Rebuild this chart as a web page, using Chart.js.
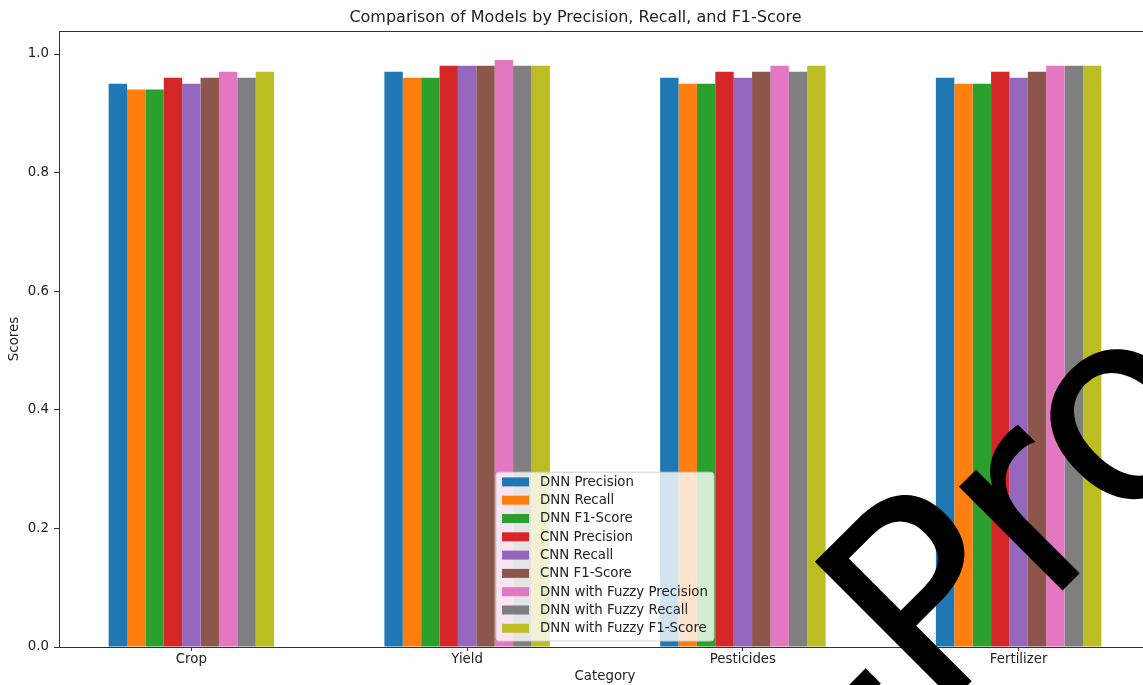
<!DOCTYPE html>
<html>
<head>
<meta charset="utf-8">
<script src="https://cdn.jsdelivr.net/npm/chart.js@4/dist/chart.umd.min.js"></script>
<style>
  html, body { margin: 0; padding: 0; background: #fff; overflow: hidden; }
  #wrap { width: 1143px; height: 685px; overflow: hidden; position: relative; }
  canvas { display: block; }
</style>
</head>
<body>
<div id="wrap"><canvas id="chart" width="1210" height="685"></canvas></div>
<script>
// Categories and per-model scores
const categories = ['Crop', 'Yield', 'Pesticides', 'Fertilizer'];

const dnnPrecision   = [0.95, 0.97, 0.96, 0.96];
const dnnRecall      = [0.94, 0.96, 0.95, 0.95];
const dnnF1          = [0.94, 0.96, 0.95, 0.95];
const cnnPrecision   = [0.96, 0.98, 0.97, 0.97];
const cnnRecall      = [0.95, 0.98, 0.96, 0.96];
const cnnF1          = [0.96, 0.98, 0.97, 0.97];
const fuzzyPrecision = [0.97, 0.99, 0.98, 0.98];
const fuzzyRecall    = [0.96, 0.98, 0.97, 0.98];
const fuzzyF1        = [0.97, 0.98, 0.98, 0.98];

const seriesLabels = [
  'DNN Precision', 'DNN Recall', 'DNN F1-Score',
  'CNN Precision', 'CNN Recall', 'CNN F1-Score',
  'DNN with Fuzzy Precision', 'DNN with Fuzzy Recall', 'DNN with Fuzzy F1-Score'
];
const seriesValues = [
  dnnPrecision, dnnRecall, dnnF1,
  cnnPrecision, cnnRecall, cnnF1,
  fuzzyPrecision, fuzzyRecall, fuzzyF1
];
const palette = ['#1f77b4', '#ff7f0e', '#2ca02c', '#d62728', '#9467bd',
                 '#8c564b', '#e377c2', '#7f7f7f', '#bcbd22'];

const yTicks = [0, 0.2, 0.4, 0.6, 0.8, 1.0];
const watermarkText = '-Pro';

const FONT = '"DejaVu Sans", "Liberation Sans", sans-serif';
const INK = '#222';
const FS = 13.33;

const datasets = seriesLabels.map((label, s) => ({
  label,
  data: categories.map((_, i) => ({ x: i, y: seriesValues[s][i] })),
  backgroundColor: palette[s],
  borderWidth: 0
}));

// Axes frame, in-plot legend and watermark
const decorations = {
  id: 'decorations',
  afterDatasetsDraw(chart) {
    const { ctx, chartArea: a } = chart;
    ctx.save();
    // frame
    ctx.strokeStyle = '#333';
    ctx.lineWidth = 1;
    ctx.strokeRect(Math.round(a.left) + 0.5, Math.round(a.top) + 0.5,
                   Math.round(a.right - a.left), Math.round(a.bottom - a.top));

    // legend, lower center
    ctx.font = FS + 'px ' + FONT;
    const items = chart.data.datasets;
    const rowH = 18.3, patchW = 27, patchH = 9;
    const textW = Math.max(...items.map(d => ctx.measureText(d.label).width));
    const w = 6 + patchW + 11 + textW + 6;
    const h = 9.7 + (items.length - 1) * rowH + 12.7;
    const x0 = (a.left + a.right) / 2 - w / 2;
    const y0 = a.bottom - 6 - h;
    ctx.beginPath();
    ctx.roundRect(x0, y0, w, h, 3);
    ctx.fillStyle = 'rgba(255,255,255,0.8)';
    ctx.fill();
    ctx.strokeStyle = 'rgba(204,204,204,0.9)';
    ctx.stroke();
    ctx.textBaseline = 'middle';
    ctx.textAlign = 'left';
    items.forEach((d, i) => {
      const cy = y0 + 9.7 + i * rowH;
      ctx.fillStyle = d.backgroundColor;
      ctx.fillRect(x0 + 6, cy - patchH / 2, patchW, patchH);
      ctx.fillStyle = INK;
      ctx.fillText(d.label, x0 + 6 + patchW + 11, cy + 0.5);
    });
    ctx.restore();
  },
  afterDraw(chart) {
    const { ctx } = chart;
    ctx.save();
    ctx.translate(866, 787);
    ctx.rotate(-Math.PI / 4);
    ctx.font = '268px ' + FONT;
    ctx.fillStyle = '#000';
    ctx.textBaseline = 'alphabetic';
    ctx.textAlign = 'left';
    ctx.fillText(watermarkText, 0, 0);
    ctx.restore();
  }
};

new Chart(document.getElementById('chart'), {
  type: 'bar',
  data: { datasets },
  options: {
    responsive: false,
    animation: false,
    devicePixelRatio: 1,
    categoryPercentage: 0.6,
    barPercentage: 1.0,
    layout: { padding: { left: 0, right: 59, top: 0, bottom: 0 } },
    plugins: {
      legend: { display: false },
      tooltip: { enabled: false },
      title: {
        display: true,
        text: 'Comparison of Models by Precision, Recall, and F1-Score',
        color: INK,
        font: { family: FONT, size: 16, weight: 'normal', lineHeight: 1.2 },
        padding: { top: 8, bottom: 3.8 }
      }
    },
    scales: {
      x: {
        type: 'linear',
        offset: false,
        min: -0.48,
        max: 3.48,
        afterFit(scale) { scale.height = 38; },
        afterBuildTicks(scale) {
          scale.ticks = categories.map((_, i) => ({ value: i }));
        },
        ticks: {
          color: INK,
          font: { family: FONT, size: FS },
          padding: 1,
          maxRotation: 0,
          autoSkip: false,
          callback: v => categories[v]
        },
        grid: { display: true, offset: false, drawOnChartArea: false, drawTicks: true, tickLength: 4, tickColor: '#333' },
        border: { display: true, color: '#333' },
        title: {
          display: true,
          text: 'Category',
          color: INK,
          font: { family: FONT, size: FS },
          padding: { top: 0, bottom: 0 }
        }
      },
      y: {
        min: 0,
        max: 1.0388,
        afterFit(scale) { scale.width = 59; },
        afterBuildTicks(scale) {
          scale.ticks = yTicks.map(v => ({ value: v }));
        },
        ticks: {
          color: INK,
          font: { family: FONT, size: FS },
          padding: 5,
          callback: v => Number(v).toFixed(1)
        },
        grid: { display: true, drawOnChartArea: false, drawTicks: true, tickLength: 5, tickColor: '#333' },
        border: { display: true, color: '#333' },
        title: {
          display: true,
          text: 'Scores',
          color: INK,
          font: { family: FONT, size: FS },
          padding: { top: 7, bottom: 0 }
        }
      }
    }
  },
  plugins: [decorations]
});
</script>
</body>
</html>
